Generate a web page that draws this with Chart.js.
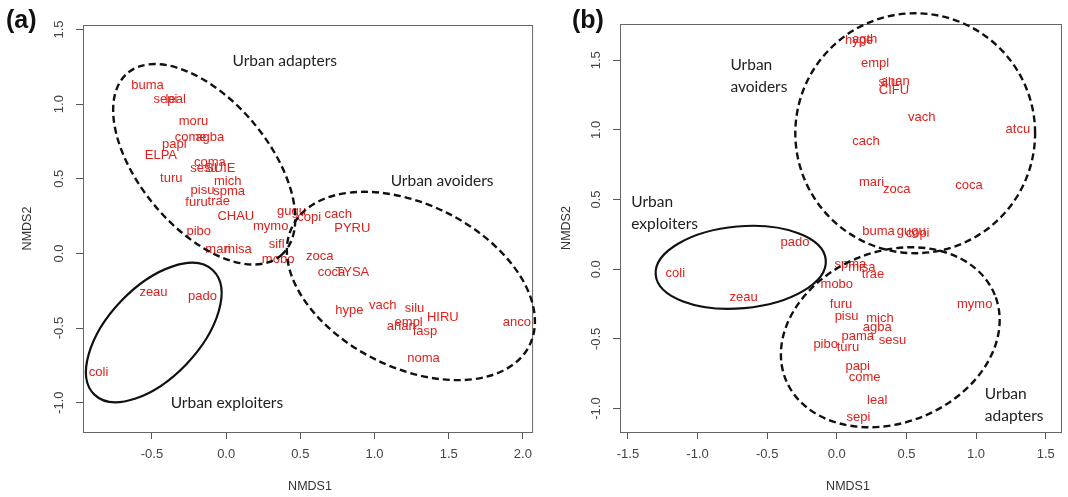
<!DOCTYPE html>
<html lang="en">
  <head>
    <meta charset="UTF-8" />
    <title>NMDS ordination</title>
    <script src="https://cdn.jsdelivr.net/npm/chart.js"></script>
    <style>
      body {
        margin: 0;
        background: #fff;
        width: 1068px;
        height: 497px;
        overflow: hidden;
        position: relative;
      }
      .panel {
        position: absolute;
        top: 0;
      }
      #panelA {
        left: 0;
      }
      #panelB {
        left: 540px;
      }
    </style>
  </head>
  <body>
    <div class="panel" id="panelA"><canvas id="chartA" width="540" height="497"></canvas></div>
    <div class="panel" id="panelB"><canvas id="chartB" width="528" height="497"></canvas></div>

    <script>
      // panel (a)
      const namesA = ["buma", "sepi", "leal", "moru", "come", "agba", "papi", "ELPA", "coma", "sesu", "SUIE",
        "turu", "mich", "pisu", "spma", "furu", "trae", "CHAU", "pibo", "mymo", "gugu", "copi", "cach", "PYRU",
        "sifl", "mari", "misa", "mobo", "zoca", "coca", "TYSA", "hype", "vach", "silu", "HIRU", "empl", "anan",
        "fasp", "noma", "anco", "zeau", "pado", "coli"];
      const xA = [-0.53, -0.41, -0.34, -0.22, -0.24, -0.11, -0.35, -0.44, -0.11, -0.15, -0.04,
        -0.37, 0.01, -0.16, 0.02, -0.2, -0.05, 0.065, -0.185, 0.3, 0.44, 0.56, 0.755, 0.85,
        0.34, -0.055, 0.08, 0.35, 0.63, 0.71, 0.85, 0.83, 1.055, 1.27, 1.46, 1.23, 1.18,
        1.34, 1.33, 1.96, -0.49, -0.16, -0.86];
      const yA = [1.126, 1.03, 1.03, 0.885, 0.78, 0.78, 0.73, 0.657, 0.61, 0.57, 0.57,
        0.5, 0.48, 0.42, 0.415, 0.34, 0.35, 0.25, 0.15, 0.18, 0.28, 0.24, 0.26, 0.17,
        0.06, 0.03, 0.03, -0.04, -0.02, -0.13, -0.13, -0.38, -0.35, -0.37, -0.43, -0.46, -0.49,
        -0.52, -0.7, -0.46, -0.26, -0.29, -0.8];
      const xTicksA = [-0.5, 0.0, 0.5, 1.0, 1.5, 2.0];
      const yTicksA = [-1.0, -0.5, 0.0, 0.5, 1.0, 1.5];
      // group ellipses (a): adapters, avoiders, exploiters
      const ellCxA = [-0.148, 1.245, -0.488];
      const ellCyA = [0.597, -0.218, -0.53];
      const ellRxA = [0.8, 0.893, 0.577];
      const ellRyA = [0.433, 0.547, 0.305];
      const ellAngA = [-49.7, -26.4, 46.1];
      const ellDashedA = [true, true, false];
      const groupTextA = [["Urban adapters"], ["Urban avoiders"], ["Urban exploiters"]];
      const groupXA = [0.395, 1.455, 0.005];
      const groupYA = [1.287, 0.483, -1.0];

      // panel (b)
      const namesB = ["hype", "agth", "empl", "silu", "anan", "CIFU", "vach", "atcu", "cach", "mari", "zoca",
        "coca", "buma", "gugu", "copi", "pado", "coli", "zeau", "spma", "misa", "trae", "mobo", "furu", "pisu",
        "mich", "agba", "pama", "sesu", "pibo", "turu", "papi", "come", "leal", "sepi", "mymo"];
      const xB = [0.16, 0.2, 0.275, 0.37, 0.42, 0.41, 0.61, 1.3, 0.21, 0.25, 0.43,
        0.95, 0.3, 0.535, 0.58, -0.3, -1.16, -0.67, 0.097, 0.18, 0.26, 0.0, 0.03, 0.07,
        0.31, 0.29, 0.15, 0.4, -0.08, 0.08, 0.15, 0.2, 0.29, 0.155, 0.99];
      const yB = [1.64, 1.65, 1.48, 1.34, 1.345, 1.28, 1.09, 1.005, 0.92, 0.62, 0.57,
        0.6, 0.27, 0.27, 0.26, 0.19, -0.03, -0.2, 0.036, 0.014, -0.04, -0.11, -0.25, -0.34,
        -0.35, -0.42, -0.48, -0.51, -0.54, -0.56, -0.7, -0.775, -0.94, -1.06, -0.25];
      const xTicksB = [-1.5, -1.0, -0.5, 0.0, 0.5, 1.0, 1.5];
      const yTicksB = [-1.0, -0.5, 0.0, 0.5, 1.0, 1.5];
      // group ellipses (b): avoiders, adapters, exploiters
      const ellCxB = [0.563, 0.384, -0.69];
      const ellCyB = [0.976, -0.488, 0.014];
      const ellRxB = [0.861, 0.81, 0.613];
      const ellRyB = [0.861, 0.615, 0.294];
      const ellAngB = [0, 22, 5];
      const ellDashedB = [true, true, false];
      const groupTextB = [["Urban", "avoiders"], ["Urban", "exploiters"], ["Urban", "adapters"]];
      const groupXB = [-0.764, -1.476, 1.063];
      const groupYB = [1.464, 0.481, -0.897];

      const labelFont = "13px 'Liberation Sans', Arial, sans-serif";
      const groupFont = "15.5px Lato, 'Open Sans', sans-serif";

      function panelPlugin(p) {
        return {
          id: "panel" + p.tag,
          afterDraw(chart) {
            const c = chart.ctx;
            const area = chart.chartArea;
            const xs = chart.scales.x;
            const ys = chart.scales.y;
            c.save();

            // frame
            c.strokeStyle = "#666";
            c.lineWidth = 1;
            c.strokeRect(area.left + 0.5, area.top + 0.5, area.right - area.left, area.bottom - area.top);

            // rotated y tick labels
            c.fillStyle = "#444";
            c.font = "13px 'Liberation Sans', Arial, sans-serif";
            c.textAlign = "center";
            c.textBaseline = "middle";
            p.yTicks.forEach((v) => {
              c.save();
              c.translate(area.left - 24, ys.getPixelForValue(v));
              c.rotate(-Math.PI / 2);
              c.fillText(v.toFixed(1), 0, 0);
              c.restore();
            });

            // axis titles
            c.fillStyle = "#333";
            c.font = "12.5px 'Liberation Sans', Arial, sans-serif";
            c.fillText("NMDS1", p.xTitleX, 487);
            c.save();
            c.translate(p.yTitleX, (area.top + area.bottom) / 2);
            c.rotate(-Math.PI / 2);
            c.fillText("NMDS2", 0, 0);
            c.restore();

            // panel letter
            c.fillStyle = "#111";
            c.font = "bold 25px 'Liberation Sans', Arial, sans-serif";
            c.textAlign = "left";
            c.fillText(p.tag, p.tagX, 21);

            // species labels at the points
            const meta = chart.getDatasetMeta(0);
            c.fillStyle = "#e0201c";
            c.font = labelFont;
            c.textAlign = "center";
            meta.data.forEach((pt, i) => {
              c.fillText(p.names[i], pt.x, pt.y);
            });

            // group ellipses
            const sx = xs.getPixelForValue(1) - xs.getPixelForValue(0);
            const sy = ys.getPixelForValue(1) - ys.getPixelForValue(0);
            p.ellCx.forEach((cx, i) => {
              c.save();
              c.translate(xs.getPixelForValue(cx), ys.getPixelForValue(p.ellCy[i]));
              c.scale(sx, sy);
              c.beginPath();
              c.ellipse(0, 0, p.ellRx[i], p.ellRy[i], (p.ellAng[i] * Math.PI) / 180, 0, 2 * Math.PI);
              c.restore();
              c.strokeStyle = "#111";
              c.lineWidth = p.ellDashed[i] ? 2.4 : 2.2;
              c.setLineDash(p.ellDashed[i] ? [7, 4] : []);
              c.stroke();
            });
            c.setLineDash([]);

            // group names
            c.fillStyle = "#222";
            c.font = groupFont;
            c.textAlign = p.groupAlign;
            p.groupText.forEach((lines, i) => {
              const gx = xs.getPixelForValue(p.groupX[i]);
              const gy = ys.getPixelForValue(p.groupY[i]);
              lines.forEach((t, j) => c.fillText(t, gx, gy + j * 22));
            });

            c.restore();
          },
        };
      }

      function makeChart(id, p) {
        const points = p.xs.map((x, i) => ({ x: x, y: p.ys[i] }));
        return new Chart(document.getElementById(id), {
          type: "scatter",
          data: {
            datasets: [{ data: points, pointRadius: 0, pointHoverRadius: 0 }],
          },
          options: {
            responsive: false,
            animation: false,
            events: [],
            layout: { padding: { top: p.top, right: p.right, left: 0, bottom: 0 } },
            plugins: { legend: { display: false }, tooltip: { enabled: false } },
            scales: {
              x: {
                type: "linear",
                min: p.xMin,
                max: p.xMax,
                afterBuildTicks: (s) => {
                  s.ticks = p.xTicks.map((v) => ({ value: v }));
                },
                afterFit: (s) => {
                  s.height = 65;
                },
                ticks: {
                  color: "#444",
                  font: { family: "'Liberation Sans', Arial, sans-serif", size: 13 },
                  padding: 8,
                  maxRotation: 0,
                  minRotation: 0,
                  autoSkip: false,
                  callback: (v) => Number(v).toFixed(1),
                },
                grid: { drawOnChartArea: false, tickLength: 7, color: "#555" },
                border: { color: "#555" },
              },
              y: {
                type: "linear",
                min: p.yMin,
                max: p.yMax,
                afterBuildTicks: (s) => {
                  s.ticks = p.yTicks.map((v) => ({ value: v }));
                },
                afterFit: (s) => {
                  s.width = p.left;
                },
                ticks: { display: false },
                grid: { drawOnChartArea: false, tickLength: 7, color: "#555" },
                border: { color: "#555" },
              },
            },
          },
          plugins: [panelPlugin(p)],
        });
      }

      makeChart("chartA", {
        tag: "(a)", tagX: 6, xTitleX: 310, yTitleX: 28,
        top: 25, right: 3, left: 83,
        xMin: -0.965, xMax: 2.062, yMin: -1.196, yMax: 1.53,
        names: namesA, xs: xA, ys: yA, xTicks: xTicksA, yTicks: yTicksA,
        ellCx: ellCxA, ellCy: ellCyA, ellRx: ellRxA, ellRy: ellRyA, ellAng: ellAngA, ellDashed: ellDashedA,
        groupText: groupTextA, groupX: groupXA, groupY: groupYA, groupAlign: "center",
      });

      makeChart("chartB", {
        tag: "(b)", tagX: 32, xTitleX: 308, yTitleX: 27,
        top: 24, right: 7, left: 80,
        xMin: -1.557, xMax: 1.61, yMin: -1.168, yMax: 1.76,
        names: namesB, xs: xB, ys: yB, xTicks: xTicksB, yTicks: yTicksB,
        ellCx: ellCxB, ellCy: ellCyB, ellRx: ellRxB, ellRy: ellRyB, ellAng: ellAngB, ellDashed: ellDashedB,
        groupText: groupTextB, groupX: groupXB, groupY: groupYB, groupAlign: "left",
      });
    </script>
  </body>
</html>
